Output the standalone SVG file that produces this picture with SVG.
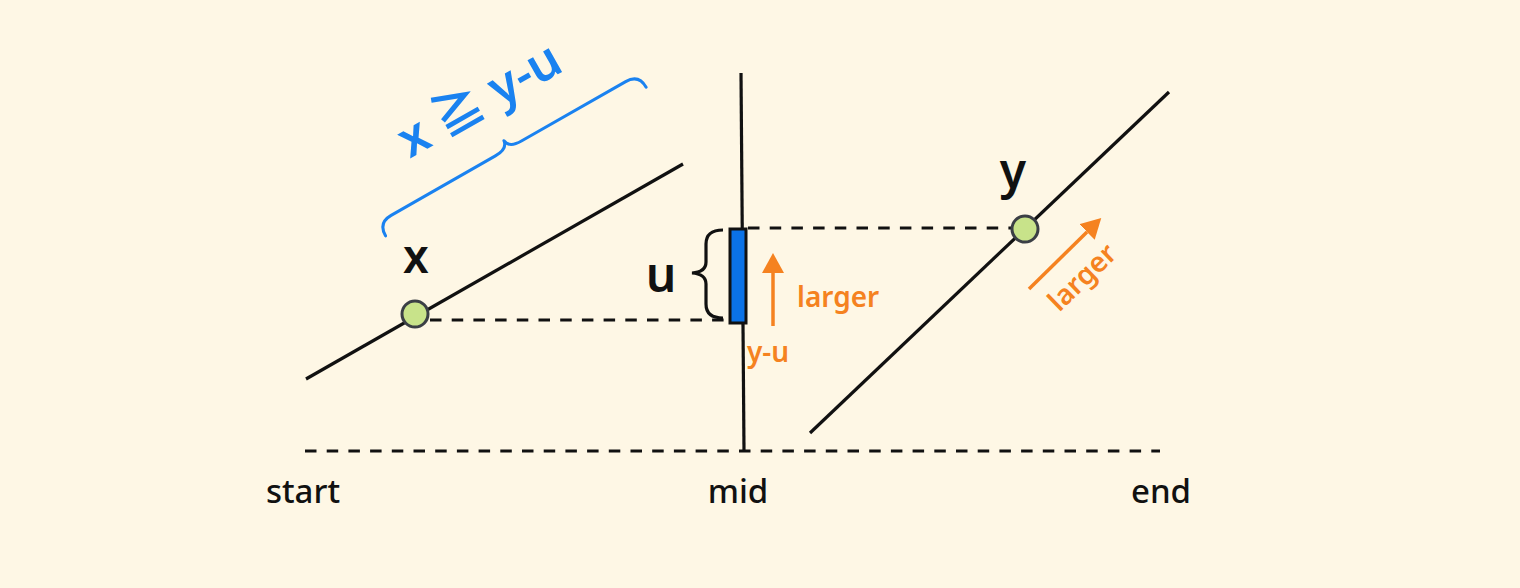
<svg xmlns="http://www.w3.org/2000/svg" width="1520" height="588" viewBox="0 0 1520 588">
<defs>
<style>
.ln{stroke:#111;stroke-width:3.2;fill:none;stroke-linecap:butt}
.dash{stroke:#111;stroke-width:3.2;fill:none;stroke-dasharray:11.5 10.2}
.pt{fill:#C8E38A;stroke:#3B3F45;stroke-width:3}
.lbl{font-family:"Noto Sans","Noto Sans CJK JP",sans-serif;fill:#111;font-weight:600}
.axis{font-family:"Noto Sans","Noto Sans CJK JP",sans-serif;fill:#111;font-weight:500;font-size:33px;text-anchor:middle}
.or{font-family:"Noto Sans","Noto Sans CJK JP",sans-serif;fill:#F58220;font-weight:600;font-size:28px}
.orl{stroke:#F58220;stroke-width:3.5;fill:none}
.bl{stroke:#1A82F0;stroke-width:3;fill:none;stroke-linecap:round;stroke-linejoin:round}
</style>
<marker id="ah" viewBox="0 0 20 22" refX="0" refY="11" markerWidth="20" markerHeight="22" markerUnits="userSpaceOnUse" orient="auto">
<path d="M0,0 L20,11 L0,22 z" fill="#F58220"/>
</marker>
</defs>
<rect width="1520" height="588" fill="#FEF7E5"/>
<g id="connectors">
<line class="ln" x1="306" y1="379" x2="683" y2="164"/>
<line class="ln" x1="741" y1="73" x2="744" y2="451"/>
<line class="ln" x1="810" y1="433" x2="1169" y2="92"/>
<line class="dash" x1="305" y1="451" x2="1160" y2="451"/>
<line class="dash" x1="430" y1="320" x2="726" y2="320"/>
<line class="dash" x1="748" y1="228" x2="1012" y2="228"/>
</g>
<g id="bar">
<rect x="730" y="229" width="16" height="94" fill="#0B72E6" stroke="#111" stroke-width="3"/>
</g>
<g id="u-brace">
<path class="ln" d="M723,230 Q706,230 706,244 L706,262 Q706,272 692,273 Q706,274 706,284 L706,304 Q706,318 723,318"/>
<text class="lbl" x="661" y="292" font-size="48" text-anchor="middle">u</text>
</g>
<g id="node-x">
<circle class="pt" cx="415" cy="314" r="13"/>
<text class="lbl" x="416" y="273" font-size="46" text-anchor="middle">x</text>
</g>
<g id="node-y">
<circle class="pt" cx="1025" cy="229" r="13"/>
<text class="lbl" x="1013" y="188" font-size="48" text-anchor="middle">y</text>
</g>
<g id="blue-brace" transform="translate(511,147) rotate(-29.7)">
<path class="bl" d="M-153,15 Q-153,0 -138,0 L-18,0 Q-4,0 -3,-9 Q-2,0 12,0 L132,0 Q147,0 147,15"/>
<text x="-4" y="-40" font-size="50" text-anchor="middle" font-family="Noto Sans, Noto Sans CJK JP, sans-serif" font-weight="600" fill="#1A82F0">x ≧ y-u</text>
</g>
<g id="larger-up">
<line class="orl" x1="773" y1="326" x2="773" y2="273" marker-end="url(#ah)"/>
<text class="or" x="797" y="307">larger</text>
<text class="or" x="747" y="362" font-size="32">y-u</text>
</g>
<g id="larger-diag">
<line class="orl" x1="1029" y1="289" x2="1087" y2="232" marker-end="url(#ah)"/>
<text class="or" transform="translate(1082,277) rotate(-44)" x="0" y="10" text-anchor="middle">larger</text>
</g>
<g id="axis-labels">
<text class="axis" x="303" y="503">start</text>
<text class="axis" x="738" y="503">mid</text>
<text class="axis" x="1161" y="503">end</text>
</g>
</svg>
